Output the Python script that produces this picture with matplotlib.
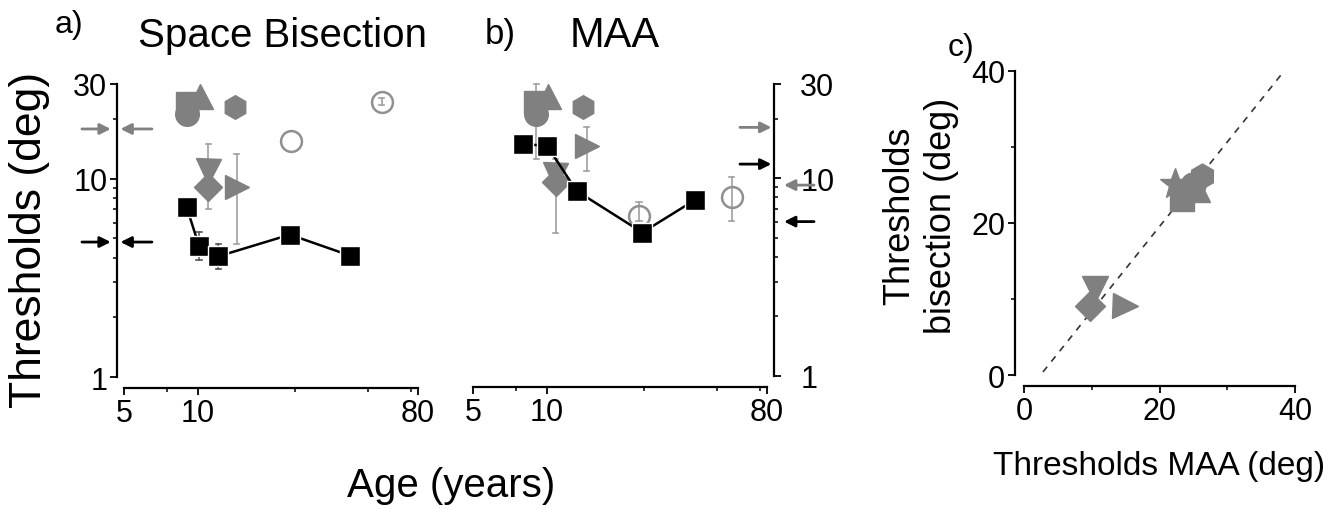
import matplotlib
matplotlib.use("Agg")
import matplotlib.pyplot as plt
from matplotlib.ticker import FixedLocator, NullFormatter, FixedFormatter

plt.rcParams['font.family'] = ['Liberation Sans', 'DejaVu Sans']

GRAY = '#808080'
EGRAY = '#a0a0a0'

# panel a: space bisection vs age
bis_sq_age = [9.03, 10.14, 12.18, 23.9, 42.2]
bis_sq_thr = [7.17, 4.59, 4.06, 5.22, 4.09]
bis_sq_lo = [None, 3.87, 3.5, None, None]
bis_sq_hi = [None, 5.37, 4.68, None, None]

bis_age = [9.03, 9.1, 10.24, 14.25, 11.07, 11.07, 14.48]
bis_thr = [24.2, 21.2, 26.2, 22.9, 10.96, 9.04, 9.04]
bis_lo = [None, None, None, None, 7.0, None, 4.68]
bis_hi = [None, None, None, None, 14.9, None, 13.3]

bis_open_age = [24.1, 56.9]
bis_open_thr = [15.5, 24.4]
bis_open_lo = [None, 23.4]
bis_open_hi = [None, 25.4]

bis_arrow_gray = 17.8
bis_arrow_black = 4.79

# panel b: MAA vs age
maa_sq_age = [8.02, 10.06, 13.28, 24.7, 40.6]
maa_sq_thr = [14.9, 14.6, 8.64, 5.32, 7.78]
maa_sq_lo = [None, None, 8.0, None, None]
maa_sq_hi = [None, None, 9.3, None, None]

maa_age = [8.96, 9.1, 10.16, 14.15, 10.8, 10.9, 14.6]
maa_thr = [24.2, 21.1, 26.2, 22.9, 10.4, 9.6, 14.5]
maa_lo = [None, 12.5, None, None, None, 5.3, 10.9]
maa_hi = [None, 30.0, None, None, None, 12.5, 18.1]

maa_open_age = [23.9, 57.4]
maa_open_thr = [6.46, 8.0]
maa_open_lo = [6.1, 6.1]
maa_open_hi = [7.6, 10.2]

maa_arrow_in = [(18.1, GRAY), (11.8, 'black')]
maa_arrow_out = [(9.24, GRAY), (6.04, 'black')]

# panel c: bisection vs MAA
c_maa = [23.3, 22.3, 25.0, 25.5, 26.2, 10.5, 9.8, 14.9]
c_bis = [23.2, 25.1, 25.0, 24.5, 26.2, 11.3, 9.1, 9.1]
c_line_x = [2.8, 38.4]
c_line_y = [0.4, 40.0]

markers = ['s', 'o', '^', 'h', 'v', 'D', '>']
c_markers = ['s', '*', 'o', '^', 'h', 'v', 'D', '>']
msizes = {'s': 16, 'o': 17, '^': 18, 'h': 17, 'v': 18, 'D': 14, '>': 17, '*': 22}

age_ticks = [5, 10, 80]
age_minor = [7.5, 25, 50, 75]
thr_ticks = [1, 10, 30]
thr_minor = [2, 3, 4, 5, 6, 7, 8, 9, 20]

TICK_FS = 22

fig = plt.figure(figsize=(13.42, 5.10), dpi=100)
W, H = 1342, 510


def add_ax(x0, x1, ytop, ybot):
    return fig.add_axes([x0 / W, 1 - ybot / H, (x1 - x0) / W, (ybot - ytop) / H])


def errbar(ax, x, lo, hi, color=EGRAY):
    for xi, l, h in zip(x, lo, hi):
        if l is None:
            continue
        ax.plot([xi, xi], [l, h], color=color, lw=1.2, zorder=1, clip_on=False)
        ax.plot([xi / 1.025, xi * 1.025], [l, l], color=color, lw=1.2, zorder=1, clip_on=False)
        ax.plot([xi / 1.025, xi * 1.025], [h, h], color=color, lw=1.2, zorder=1, clip_on=False)


def style_age_axis(ax, yside):
    ax.set_xscale('log')
    ax.set_yscale('log')
    ax.set_xlim(5, 80)
    ax.set_ylim(1, 30)
    for s in ['top', 'right', 'left', 'bottom']:
        ax.spines[s].set_visible(False)
    ax.spines['bottom'].set_visible(True)
    ax.spines[yside].set_visible(True)
    ax.spines['bottom'].set_position(('outward', 8))
    ax.spines[yside].set_position(('outward', 5))
    for s in ['bottom', yside]:
        ax.spines[s].set_linewidth(1.6)
    ax.xaxis.set_major_locator(FixedLocator(age_ticks))
    ax.xaxis.set_major_formatter(FixedFormatter([str(t) for t in age_ticks]))
    ax.xaxis.set_minor_locator(FixedLocator(age_minor))
    ax.xaxis.set_minor_formatter(NullFormatter())
    ax.yaxis.set_major_locator(FixedLocator(thr_ticks))
    ax.yaxis.set_major_formatter(FixedFormatter([str(t) for t in thr_ticks]))
    ax.yaxis.set_minor_locator(FixedLocator(thr_minor))
    ax.yaxis.set_minor_formatter(NullFormatter())
    ax.tick_params(which='major', length=5, width=1.3, labelsize=TICK_FS, pad=2)
    ax.tick_params(which='minor', length=3, width=1.1)
    if yside == 'right':
        ax.yaxis.tick_right()
        ax.tick_params(axis='y', which='major', pad=14)


def draw_age_panel(ax, sq_age, sq_thr, sq_lo, sq_hi, g_age, g_thr, g_lo, g_hi,
                   o_age, o_thr, o_lo, o_hi):
    errbar(ax, g_age, g_lo, g_hi)
    errbar(ax, sq_age, sq_lo, sq_hi, color='#555555')
    errbar(ax, o_age, o_lo, o_hi)
    for x, y, m in zip(g_age, g_thr, markers):
        ax.plot(x, y, marker=m, ms=msizes[m], color=GRAY, mec=GRAY, ls='none',
                zorder=3, clip_on=False)
    ax.plot(o_age, o_thr, 'o', ms=15, mfc='none', mec='#909090', mew=1.8,
            zorder=3, clip_on=False)
    ax.plot(sq_age, sq_thr, '-', color='black', lw=1.8, zorder=4)
    ax.plot(sq_age, sq_thr, 's', ms=14, color='black', mec='white', mew=1.0,
            zorder=5, clip_on=False)


def arrow(ax, x_tail, x_head, y, color):
    ax.annotate('', xy=(x_head, y), xytext=(x_tail, y),
                xycoords=ax.get_yaxis_transform(),
                arrowprops=dict(arrowstyle='-|>', color=color, lw=2,
                                mutation_scale=16, shrinkA=0, shrinkB=0),
                annotation_clip=False)


# panel a
ax1 = add_ax(124, 418, 85, 378)
style_age_axis(ax1, 'left')
draw_age_panel(ax1, bis_sq_age, bis_sq_thr, bis_sq_lo, bis_sq_hi,
               bis_age, bis_thr, bis_lo, bis_hi,
               bis_open_age, bis_open_thr, bis_open_lo, bis_open_hi)
for y, c in [(bis_arrow_gray, GRAY), (bis_arrow_black, 'black')]:
    arrow(ax1, -0.143, -0.045, y, c)
    arrow(ax1, 0.095, -0.012, y, c)

# panel b
ax2 = add_ax(473, 767, 85, 377)
style_age_axis(ax2, 'right')
draw_age_panel(ax2, maa_sq_age, maa_sq_thr, maa_sq_lo, maa_sq_hi,
               maa_age, maa_thr, maa_lo, maa_hi,
               maa_open_age, maa_open_thr, maa_open_lo, maa_open_hi)
for y, c in maa_arrow_in:
    arrow(ax2, 0.908, 1.015, y, c)
for y, c in maa_arrow_out:
    arrow(ax2, 1.16, 1.058, y, c)

# panel c
ax3 = add_ax(1024, 1295, 72, 376)
ax3.set_xlim(0, 40)
ax3.set_ylim(0, 40)
for s in ['top', 'right']:
    ax3.spines[s].set_visible(False)
ax3.spines['left'].set_position(('outward', 6.5))
ax3.spines['bottom'].set_position(('outward', 8))
for s in ['bottom', 'left']:
    ax3.spines[s].set_linewidth(1.6)
ax3.set_xticks([0, 20, 40])
ax3.set_yticks([0, 20, 40])
ax3.set_xticks([10, 30], minor=True)
ax3.set_yticks([10, 30], minor=True)
ax3.tick_params(which='major', length=5, width=1.3, labelsize=TICK_FS, pad=2)
ax3.tick_params(which='minor', length=3, width=1.1)
ax3.plot(c_line_x, c_line_y, ls=(0, (4, 4)), color='#333333', lw=1.2, zorder=1)
for x, y, m in zip(c_maa, c_bis, c_markers):
    ax3.plot(x, y, marker=m, ms=msizes[m] + 1, color=GRAY, mec=GRAY, ls='none',
             zorder=3, clip_on=False)

# texts
fig.text(55 / W, 1 - 33 / H, 'a)', fontsize=23, va='baseline')
fig.text(282 / W, 1 - 47 / H, 'Space Bisection', fontsize=29, ha='center', va='baseline')
fig.text(485 / W, 1 - 44 / H, 'b)', fontsize=25, va='baseline')
fig.text(615 / W, 1 - 47 / H, 'MAA', fontsize=30, ha='center', va='baseline')
fig.text(948 / W, 1 - 56 / H, 'c)', fontsize=23, va='baseline')
fig.text(451 / W, 1 - 497 / H, 'Age (years)', fontsize=29, ha='center', va='baseline')
fig.text(30 / W, 1 - 240 / H, 'Thresholds (deg)', fontsize=32, rotation=90,
         ha='center', va='center')
fig.text(921 / W, 1 - 216 / H, 'Thresholds\nbisection (deg)', fontsize=26,
         rotation=90, ha='center', va='center', multialignment='center',
         linespacing=1.25)
fig.text(1159 / W, 1 - 475 / H, 'Thresholds MAA (deg)', fontsize=24,
         ha='center', va='baseline')

fig.savefig('out.png', dpi=100)
